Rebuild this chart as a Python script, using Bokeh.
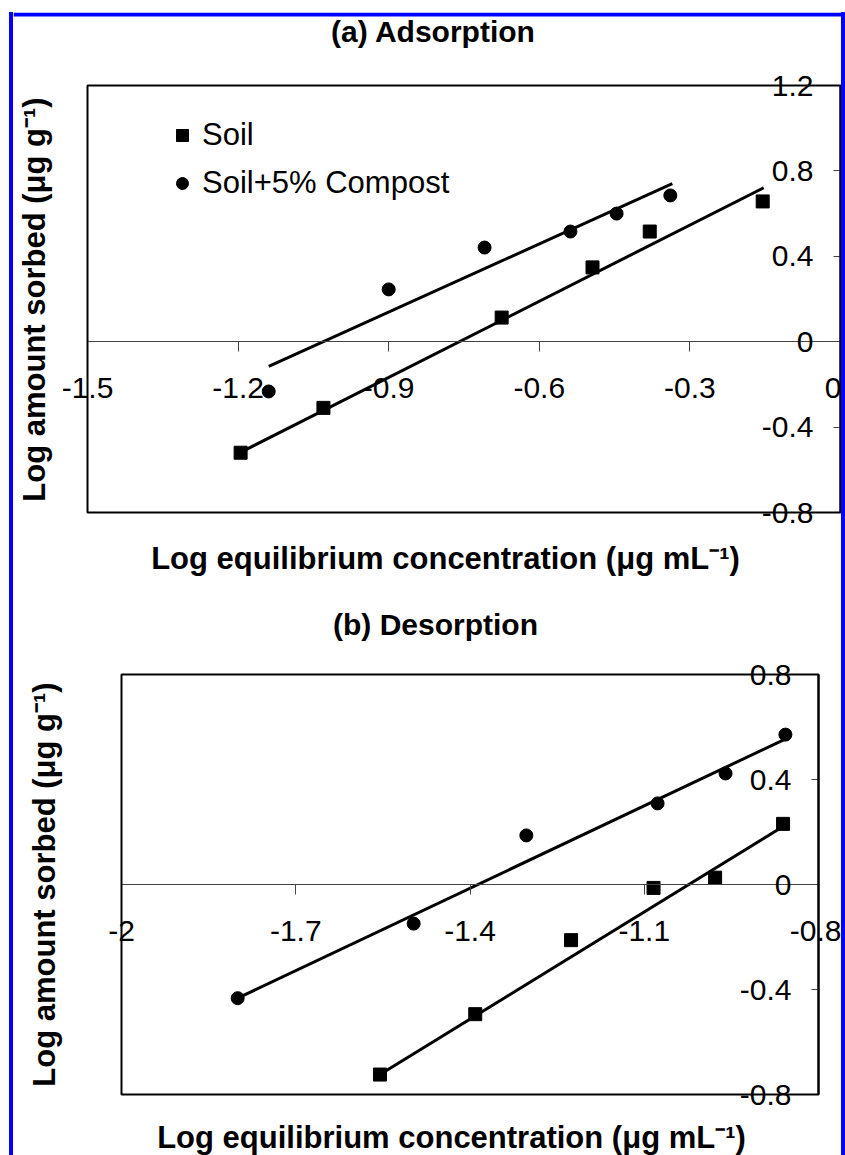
from math import pi
from bokeh.plotting import figure
from bokeh.models import (FixedTicker, CustomJSTickFormatter, Label, Legend,
                          LegendItem, Range1d, BoxAnnotation)
from bokeh.layouts import column
from bokeh.embed import file_html
from bokeh.resources import INLINE

# ---------------- Panel (a) Adsorption ----------------
ads_soil_x = [-1.195, -1.03, -0.675, -0.494, -0.38, -0.155]
ads_soil_y = [-0.52, -0.31, 0.113, 0.348, 0.516, 0.657]
ads_comp_x = [-1.139, -0.90, -0.709, -0.538, -0.446, -0.339]
ads_comp_y = [-0.233, 0.245, 0.441, 0.516, 0.600, 0.685]
ads_soil_fit_x = [-1.195, -0.153]
ads_soil_fit_y = [-0.518, 0.721]
ads_comp_fit_x = [-1.139, -0.335]
ads_comp_fit_y = [-0.116, 0.740]
ads_x_ticks = [-1.5, -1.2, -0.9, -0.6, -0.3, 0.0]
ads_x_labels = ["-1.5", "-1.2", "-0.9", "-0.6", "-0.3", "0"]
ads_y_ticks = [-0.8, -0.4, 0.0, 0.4, 0.8, 1.2]
ads_y_labels = ["-0.8", "-0.4", "0", "0.4", "0.8", "1.2"]

# ---------------- Panel (b) Desorption ----------------
des_soil_x = [-1.555, -1.391, -1.226, -1.084, -0.978, -0.861]
des_soil_y = [-0.724, -0.494, -0.212, -0.013, 0.026, 0.231]
des_comp_x = [-1.80, -1.497, -1.303, -1.077, -0.960, -0.857]
des_comp_y = [-0.433, -0.149, 0.187, 0.309, 0.423, 0.571]
des_soil_fit_x = [-1.555, -0.861]
des_soil_fit_y = [-0.724, 0.221]
des_comp_fit_x = [-1.80, -0.860]
des_comp_fit_y = [-0.433, 0.551]
des_x_ticks = [-2.0, -1.7, -1.4, -1.1, -0.8]
des_x_labels = ["-2", "-1.7", "-1.4", "-1.1", "-0.8"]
des_y_ticks = [-0.8, -0.4, 0.0, 0.4, 0.8]
des_y_labels = ["-0.8", "-0.4", "0", "0.4", "0.8"]

series_names = ["Soil", "Soil+5% Compost"]
y_title = "Log amount sorbed (\u03bcg g\u207b\u00b9)"
x_title = "Log equilibrium concentration (\u03bcg mL\u207b\u00b9)"

FONT = "Liberation Sans"
CANVAS_W = 828
BLUE = "#0000ff"


def fmt(ticks, labels):
    return CustomJSTickFormatter(args=dict(tv=ticks, tl=labels), code="""
for (let i = 0; i < tv.length; i++) { if (Math.abs(tv[i] - tick) < 1e-6) return tl[i]; }
return "";
""")


def make_panel(xlim, ylim, xcross, ycross, xt, xl, yt, yl, box, h):
    # box = (left, right, top, bottom) pixel position of the plot box in the canvas
    bl, br, bt, bb = box
    sx = (br - bl) / (xlim[1] - xlim[0])
    sy = (bb - bt) / (ylim[1] - ylim[0])
    xr = Range1d(xlim[0] - bl / sx, xlim[1] + (CANVAS_W - br) / sx)
    yr = Range1d(ylim[0] - (h - bb) / sy, ylim[1] + bt / sy)
    p = figure(x_range=xr, y_range=yr, frame_width=CANVAS_W, frame_height=h,
               min_border=0, min_border_left=0, min_border_right=0,
               min_border_top=0, min_border_bottom=0,
               output_backend="svg", toolbar_location=None, title=None,
               background_fill_color="white", border_fill_color="white")
    p.xgrid.visible = False
    p.ygrid.visible = False
    p.outline_line_color = None
    p.add_layout(BoxAnnotation(left=xlim[0], right=xlim[1], bottom=ylim[0],
                               top=ylim[1], fill_alpha=0, line_color="black",
                               line_width=2, line_alpha=1))

    xa = p.xaxis[0]
    xa.fixed_location = ycross
    xa.bounds = xlim
    xa.ticker = FixedTicker(ticks=xt)
    xa.formatter = fmt(xt, xl)
    xa.major_tick_out = 10
    xa.major_tick_in = 0
    xa.minor_tick_out = 0
    xa.minor_tick_in = 0
    xa.axis_line_color = "#444444"
    xa.axis_line_width = 1
    xa.major_tick_line_color = "#444444"
    xa.major_label_text_font = FONT
    xa.major_label_text_font_size = "30px"
    xa.major_label_text_color = "black"
    xa.major_label_standoff = 26

    ya = p.yaxis[0]
    ya.fixed_location = xcross
    ya.bounds = ylim
    ya.ticker = FixedTicker(ticks=yt)
    ya.formatter = fmt(yt, yl)
    ya.major_tick_out = 7
    ya.major_tick_in = 0
    ya.minor_tick_out = 0
    ya.minor_tick_in = 0
    ya.axis_line_color = "black"
    ya.axis_line_width = 2
    ya.major_tick_line_color = "#444444"
    ya.major_label_text_font = FONT
    ya.major_label_text_font_size = "30px"
    ya.major_label_text_color = "black"
    ya.major_label_standoff = 20
    return p


def add_text(p, x, y, text, size="31px", angle=0.0):
    p.add_layout(Label(x=x, y=y, x_units="screen", y_units="screen", text=text,
                       text_font=FONT, text_font_size=size,
                       text_font_style="bold", text_color="black",
                       text_align="center", text_baseline="alphabetic",
                       angle=angle))


# ---- panel a ----
HA = 588
pa = make_panel((-1.5, 0.0), (-0.8, 1.2), 0.0, 0.0, ads_x_ticks, ads_x_labels,
                ads_y_ticks, ads_y_labels, (74, 827, 73, 500), HA)
# blue frame line along the top of the figure
pa.add_layout(BoxAnnotation(left=0, right=CANVAS_W, top=HA, bottom=HA - 4,
                            left_units="screen", right_units="screen",
                            top_units="screen", bottom_units="screen",
                            fill_color=BLUE, fill_alpha=1, line_color=None))
pa.line(ads_soil_fit_x, ads_soil_fit_y, line_color="black", line_width=3)
pa.line(ads_comp_fit_x, ads_comp_fit_y, line_color="black", line_width=3)
r_sq = pa.scatter(ads_soil_x, ads_soil_y, marker="square", size=13,
                  fill_color="black", line_color="black")
r_ci = pa.scatter(ads_comp_x, ads_comp_y, marker="circle", size=13,
                  fill_color="black", line_color="black")
legend = Legend(items=[LegendItem(label=series_names[0], renderers=[r_sq]),
                       LegendItem(label=series_names[1], renderers=[r_ci])],
                location=(154, 399), glyph_width=30, glyph_height=30,
                label_height=30, label_standoff=5, spacing=12, padding=0,
                margin=0, border_line_color=None, background_fill_alpha=0,
                label_text_font=FONT, label_text_font_size="31px",
                label_text_color="black")
pa.add_layout(legend)
add_text(pa, 420, 569, "(a) Adsorption", size="30px")
add_text(pa, 432, 42, x_title)
add_text(pa, 21, 301, y_title, angle=pi / 2)

# ---- panel b ----
pb = make_panel((-2.0, -0.8), (-0.8, 0.8), -0.8, 0.0, des_x_ticks, des_x_labels,
                des_y_ticks, des_y_labels, (108, 805, 74, 494), 555)
pb.line(des_soil_fit_x, des_soil_fit_y, line_color="black", line_width=3)
pb.line(des_comp_fit_x, des_comp_fit_y, line_color="black", line_width=3)
pb.scatter(des_soil_x, des_soil_y, marker="square", size=13,
           fill_color="black", line_color="black")
pb.scatter(des_comp_x, des_comp_y, marker="circle", size=13,
           fill_color="black", line_color="black")
add_text(pb, 422, 531, "(b) Desorption", size="30px")
add_text(pb, 438, 18, x_title)
add_text(pb, 31, 271, y_title, angle=pi / 2)

layout = column(pa, pb, styles={
    "margin-top": "12px", "margin-left": "9px", "margin-bottom": "-12px",
    "border-left": "4px solid " + BLUE, "border-right": "4px solid " + BLUE})

open("out.html", "w").write(file_html(layout, INLINE))
